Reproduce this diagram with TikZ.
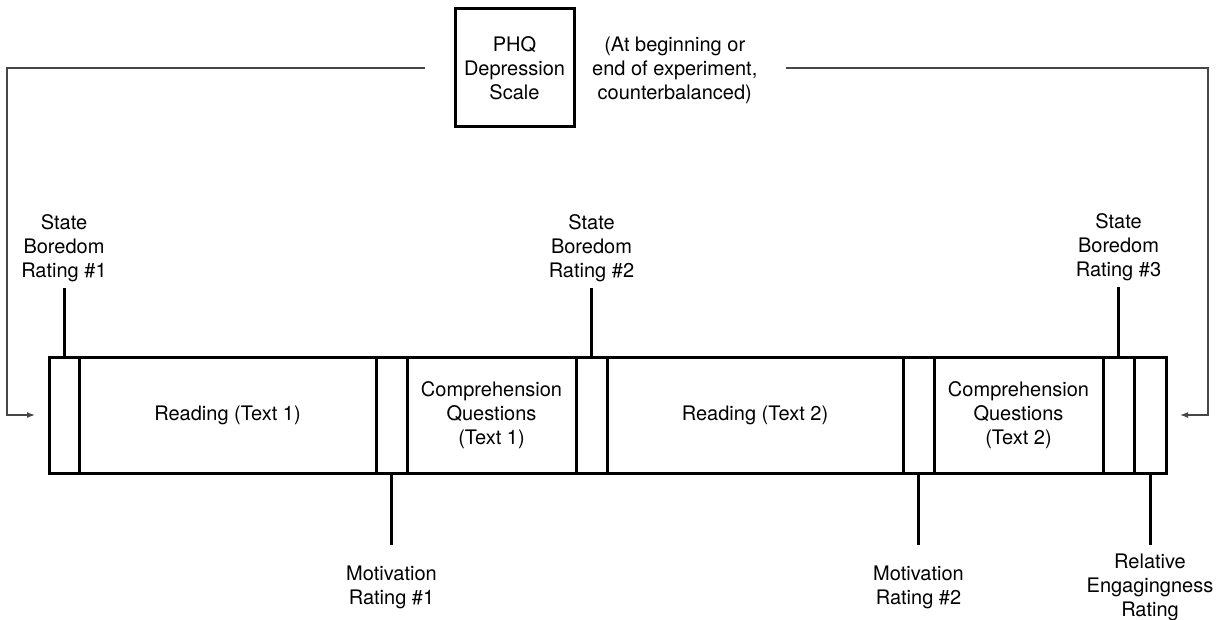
\documentclass[tikz,border=0pt]{standalone}
\usepackage{fontspec}
\setmainfont{TeX Gyre Heros}
\usepackage{tikz}
\usetikzlibrary{arrows.meta, positioning, calc}
\definecolor{inkline}{RGB}{70, 70, 70}
\newcommand{\lbfont}{\fontsize{20}{24}\selectfont}
\tikzset{
    seg/.style  ={draw=black, line width=3pt, fill=white, inner sep=0pt, outer sep=0pt,
                  minimum height=116pt, align=center, font=\lbfont},
    scalebox/.style={draw=black, line width=3pt, fill=white, inner sep=0pt, outer sep=0pt,
                  minimum width=119pt, minimum height=118pt, align=center, font=\lbfont},
    lbl/.style  ={align=center, inner sep=0pt, font=\lbfont},
    tick/.style ={line width=3pt, draw=black},
    feed/.style ={-{Latex[length=8pt, width=6pt]}, line width=1.3pt, draw=inkline}
}

\begin{document}
\begin{tikzpicture}[x=1pt, y=-1pt]
  \useasboundingbox (0,0) rectangle (1225,620);

  % session bar
  \node[seg, minimum width=30pt]  (s1) at (64,415) {};
  \node[seg, minimum width=297pt, right=0pt of s1] (r1) {Reading (Text 1)};
  \node[seg, minimum width=31pt,  right=0pt of r1] (m1) {};
  \node[seg, minimum width=169pt, right=0pt of m1] (c1) {Comprehension\\Questions\\(Text 1)};
  \node[seg, minimum width=31pt,  right=0pt of c1] (s2) {};
  \node[seg, minimum width=296pt, right=0pt of s2] (r2) {Reading (Text 2)};
  \node[seg, minimum width=31pt,  right=0pt of r2] (m2) {};
  \node[seg, minimum width=169pt, right=0pt of m2] (c2) {Comprehension\\Questions\\(Text 2)};
  \node[seg, minimum width=31pt,  right=0pt of c2] (s3) {};
  \node[seg, minimum width=32pt,  right=0pt of s3] (eg) {};

  % PHQ
  \node[scalebox] (phq) at (514.5,68) {PHQ\\Depression\\Scale};
  \node[lbl, right=18pt of phq, yshift=-2pt] (note) {(At beginning or\\end of experiment,\\counterbalanced)};

  % ratings above the bar
  \node[lbl, anchor=south] (sb1) at (64,282)     {State\\Boredom\\Rating \#1};
  \node[lbl, anchor=south] (sb2) at (591.5,282)  {State\\Boredom\\Rating \#2};
  \node[lbl, anchor=south] (sb3) at (1118.5,281) {State\\Boredom\\Rating \#3};
  \draw[tick, shorten >=6pt] (s1.north) -- (sb1.south);
  \draw[tick, shorten >=6pt] (s2.north) -- (sb2.south);
  \draw[tick, shorten >=6pt] (s3.north) -- (sb3.south);

  % ratings below the bar
  \node[lbl, anchor=north] (mr1) at (391.5,566) {Motivation\\Rating \#1};
  \node[lbl, anchor=north] (mr2) at (918.5,566) {Motivation\\Rating \#2};
  \node[lbl, anchor=north] (eng) at (1150,554)  {Relative\\Engagingness\\Rating};
  \draw[tick, shorten >=21pt] (m1.south) -- (mr1.north);
  \draw[tick, shorten >=21pt] (m2.south) -- (mr2.north);
  \draw[tick, shorten >=9pt] (eg.south) -- (eng.north);

  % PHQ goes at either end
  \coordinate (lturn) at (7,68);
  \coordinate (rturn) at (1208,68);
  \draw[feed, shorten >=14pt] ([xshift=-30pt]phq.west) -- (lturn) |- (s1.west);
  \draw[feed, shorten >=14pt] ($(note.east |- phq.east)+(28,0)$) -- (rturn) |- (eg.east);
\end{tikzpicture}
\end{document}
